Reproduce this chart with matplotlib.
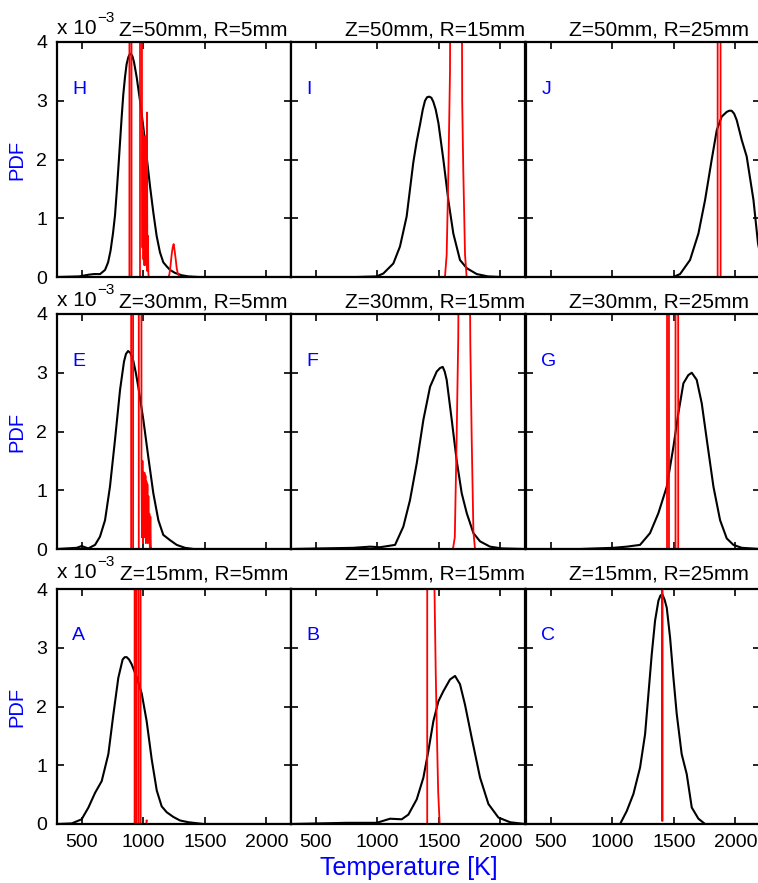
import matplotlib.pyplot as plt

plt.rcParams["font.family"] = ["Liberation Sans", "DejaVu Sans"]

# temperature [K] vs pdf [x 1e-3]; black = measured, red = modelled
# Z=50mm
H_T = [300, 480, 560, 600, 650, 690, 715, 735, 755, 771, 785, 798, 812, 825, 838, 852, 865, 879,
       890, 900, 912, 925, 947, 974, 1001, 1028, 1055, 1082, 1109, 1136, 1163, 1191, 1218, 1258,
       1312, 1367, 1450, 2200]
H_pdf = [0, 0.01, 0.04, 0.05, 0.05, 0.12, 0.25, 0.45, 0.75, 1.05, 1.45, 1.85, 2.3, 2.72, 3.1,
         3.4, 3.62, 3.74, 3.79, 3.8, 3.76, 3.66, 3.4, 3.0, 2.55, 2.05, 1.55, 1.1, 0.7, 0.42, 0.25,
         0.18, 0.12, 0.07, 0.03, 0.01, 0, 0]
H_red_T = [880, 888, 889, 904, 905, 974, 975, 986, 990, 994, 998, 1002, 1006, 1010, 1014, 1018,
           1022, 1026, 1030, 1034, 1038, 1042, 1046, 1205, 1213, 1222, 1231, 1239, 1247, 1255,
           1264, 1272, 1281, 1290, 1300]
H_red_pdf = [0, 0, 30, 30, 0, 0, 30, 30, 2.1, 0.5, 2.5, 0.3, 1.8, 0.2, 2.4, 0.4, 1.5, 0.2, 2.8,
             0.1, 0.7, 0.05, 0, 0, 0.05, 0.2, 0.38, 0.5, 0.56, 0.45, 0.3, 0.15, 0.06, 0.02, 0]

I_T = [300, 830, 996, 1050, 1131, 1185, 1239, 1293, 1320, 1348, 1370, 1388, 1405, 1423, 1440,
       1456, 1475, 1497, 1537, 1578, 1618, 1672, 1727, 1808, 1900, 2000, 2200]
I_pdf = [0, 0, 0.01, 0.06, 0.23, 0.52, 1.03, 1.95, 2.3, 2.6, 2.85, 3.0, 3.06, 3.07, 3.05, 2.98,
         2.85, 2.62, 2.0, 1.3, 0.74, 0.29, 0.15, 0.05, 0.01, 0, 0]
I_red_T = [1020, 1550, 1564, 1578, 1591, 1600, 1640, 1683, 1690, 1699, 1713, 1726, 1730]
I_red_pdf = [0, 0, 0.38, 1.8, 3.5, 8, 12, 8, 3.0, 1.8, 0.38, 0, 0]

J_T = [300, 1497, 1551, 1632, 1700, 1754, 1808, 1849, 1889, 1930, 1950, 1970, 1990, 2011, 2052,
       2092, 2147, 2184, 2200]
J_pdf = [0, 0, 0.05, 0.29, 0.74, 1.31, 2.0, 2.5, 2.73, 2.81, 2.83, 2.83, 2.78, 2.67, 2.33, 2.05,
         1.31, 0.57, 0.4]
J_red_T = [1845, 1856, 1857, 1877, 1880, 1890]
J_red_pdf = [0, 0, 30, 30, 0, 0]

# Z=30mm
E_T = [300, 460, 500, 554, 609, 649, 690, 730, 771, 812, 844, 860, 877, 895, 920, 940, 960, 1001,
       1041, 1082, 1123, 1163, 1218, 1272, 1339, 1410, 2200]
E_pdf = [0, 0.02, 0.05, 0.01, 0.07, 0.21, 0.49, 1.06, 1.86, 2.71, 3.19, 3.32, 3.37, 3.34, 3.2,
         3.0, 2.76, 2.2, 1.57, 0.95, 0.49, 0.24, 0.15, 0.07, 0.02, 0, 0]
E_red_T = [890, 902, 903, 917, 918, 964, 965, 980, 986, 990, 994, 998, 1002, 1006, 1010, 1014,
           1018, 1022, 1026, 1030, 1034, 1038, 1042, 1046, 1050, 1054, 1058, 1062, 1066]
E_red_pdf = [0, 0, 30, 30, 0, 0, 30, 30, 1.55, 0.2, 1.5, 0.1, 1.3, 0.3, 1.3, 0.2, 1.25, 0.1,
             1.15, 0.3, 1.1, 0.1, 0.9, 0.2, 0.6, 0.0, 0.55, 0.05, 0]

F_T = [300, 806, 942, 1023, 1145, 1212, 1266, 1321, 1375, 1429, 1483, 1510, 1532, 1548, 1564,
       1605, 1645, 1686, 1727, 1781, 1835, 1916, 2011, 2200]
F_pdf = [0, 0.02, 0.04, 0.03, 0.07, 0.38, 0.83, 1.46, 2.2, 2.76, 3.02, 3.08, 3.1, 3.02, 2.88,
         2.2, 1.51, 0.95, 0.61, 0.27, 0.13, 0.04, 0.01, 0]
F_red_T = [1020, 1615, 1630, 1645, 1658, 1665, 1705, 1748, 1756, 1767, 1781, 1794]
F_red_pdf = [0, 0, 0.2, 1.9, 3.6, 6, 10, 6, 3.5, 1.9, 0.3, 0]

G_T = [300, 739, 1009, 1118, 1226, 1307, 1375, 1443, 1497, 1537, 1578, 1618, 1646, 1686, 1727,
       1768, 1822, 1876, 1930, 1984, 2052, 2200]
G_pdf = [0, 0, 0.02, 0.04, 0.07, 0.27, 0.61, 1.06, 1.74, 2.31, 2.82, 2.96, 3.0, 2.88, 2.48,
         1.86, 1.06, 0.49, 0.18, 0.07, 0.02, 0]
G_red_T = [1440, 1445, 1446, 1460, 1461, 1514, 1515, 1533, 1536]
G_red_pdf = [0, 0, 30, 30, 0, 0, 30, 30, 0]

# Z=15mm
A_T = [300, 420, 500, 555, 609, 663, 717, 758, 798, 833, 850, 866, 885, 906, 947, 988, 1028,
       1069, 1110, 1150, 1191, 1245, 1299, 1367, 1490, 2200]
A_pdf = [0, 0.01, 0.08, 0.28, 0.53, 0.73, 1.19, 1.87, 2.49, 2.8, 2.84, 2.84, 2.8, 2.72, 2.5,
         2.22, 1.75, 1.1, 0.57, 0.3, 0.2, 0.12, 0.06, 0.03, 0, 0]
A_red_T = [920, 930, 931, 944, 945, 962, 963, 978, 979, 1026, 1027, 1029]
A_red_pdf = [0, 0, 30, 30, 0, 0, 30, 30, 0, 0, 0.06, 0.06]

B_T = [300, 752, 996, 1104, 1199, 1253, 1321, 1375, 1415, 1456, 1497, 1537, 1591, 1632, 1672,
       1713, 1767, 1835, 1903, 1984, 2079, 2200]
B_pdf = [0, 0.02, 0.02, 0.09, 0.08, 0.16, 0.42, 0.79, 1.24, 1.75, 2.09, 2.26, 2.46, 2.52, 2.38,
         2.03, 1.47, 0.79, 0.34, 0.11, 0.03, 0]
B_red_T = [1395, 1406, 1407, 1440, 1455, 1465, 1475, 1485, 1495, 1507]
B_red_pdf = [0, 0, 30, 30, 8, 4, 2.6, 1.5, 0.55, 0]

C_T = [300, 1064, 1118, 1172, 1226, 1267, 1294, 1321, 1348, 1375, 1392, 1407, 1425, 1443, 1470,
       1497, 1524, 1564, 1605, 1646, 1700, 1754, 2200]
C_pdf = [0, 0, 0.22, 0.51, 0.96, 1.53, 2.21, 2.89, 3.46, 3.8, 3.89, 3.91, 3.82, 3.68, 3.17,
         2.49, 1.87, 1.19, 0.85, 0.28, 0.09, 0, 0]
C_red_T = [1406, 1407, 1408]
C_red_pdf = [0.06, 40, 0.06]

panels = [
    ("H", "Z=50mm, R=5mm", H_T, H_pdf, H_red_T, H_red_pdf),
    ("I", "Z=50mm, R=15mm", I_T, I_pdf, I_red_T, I_red_pdf),
    ("J", "Z=50mm, R=25mm", J_T, J_pdf, J_red_T, J_red_pdf),
    ("E", "Z=30mm, R=5mm", E_T, E_pdf, E_red_T, E_red_pdf),
    ("F", "Z=30mm, R=15mm", F_T, F_pdf, F_red_T, F_red_pdf),
    ("G", "Z=30mm, R=25mm", G_T, G_pdf, G_red_T, G_red_pdf),
    ("A", "Z=15mm, R=5mm", A_T, A_pdf, A_red_T, A_red_pdf),
    ("B", "Z=15mm, R=15mm", B_T, B_pdf, B_red_T, B_red_pdf),
    ("C", "Z=15mm, R=25mm", C_T, C_pdf, C_red_T, C_red_pdf),
]

# layout in pixels
W, H = 758, 883
col_left = [57, 291, 526]
row_top = [42, 314, 589]
pw, ph = 234, 235
title_right = [0.987, 1.0, 0.953]
title_gap = [6, 6, 9]

fig = plt.figure(figsize=(W / 100, H / 100), dpi=100)

for i, (letter, title, T, pdf, rT, rpdf) in enumerate(panels):
    r, c = divmod(i, 3)
    ax = fig.add_axes([col_left[c] / W, 1 - (row_top[r] + ph) / H, pw / W, ph / H])
    ax.plot(T, pdf, color="black", lw=1.5)
    ax.plot(rT, rpdf, color="red", lw=1.3)
    ax.set_xlim(300, 2200)
    ax.set_ylim(0, 4)
    ax.set_xticks([500, 1000, 1500, 2000])
    ax.set_yticks([0, 1, 2, 3, 4])
    ax.tick_params(direction="in", length=5, width=1.2, top=True, right=True,
                   labelsize=14, pad=7, labelleft=(c == 0), labelbottom=(r == 2))
    for s in ax.spines.values():
        s.set_linewidth(1.6)

    ax.text(title_right[c], 1 + title_gap[r] / ph, title, transform=ax.transAxes,
            ha="right", va="baseline", fontsize=15)
    ax.text(0.065, 0.80, letter, transform=ax.transAxes, color="blue",
            fontsize=14, ha="left", va="center")
    if c == 0:
        # exponent label for the y axis, drawn as two pieces
        ax.text(0, 1 + (title_gap[r] + 2) / ph, "x 10", transform=ax.transAxes,
                ha="left", va="baseline", fontsize=15)
        ax.text(40 / pw, 1 + (title_gap[r] + 14) / ph, "\u22123", transform=ax.transAxes,
                ha="left", va="baseline", fontsize=11)
        ax.text(-40 / pw, 0.5, "PDF", transform=ax.transAxes, rotation=90,
                color="blue", fontsize=14.5, ha="center", va="center")

fig.text(409 / W, 1 - 868 / H, "Temperature [K]", color="blue", fontsize=18,
         ha="center", va="center")

fig.savefig("out.png", dpi=100)
